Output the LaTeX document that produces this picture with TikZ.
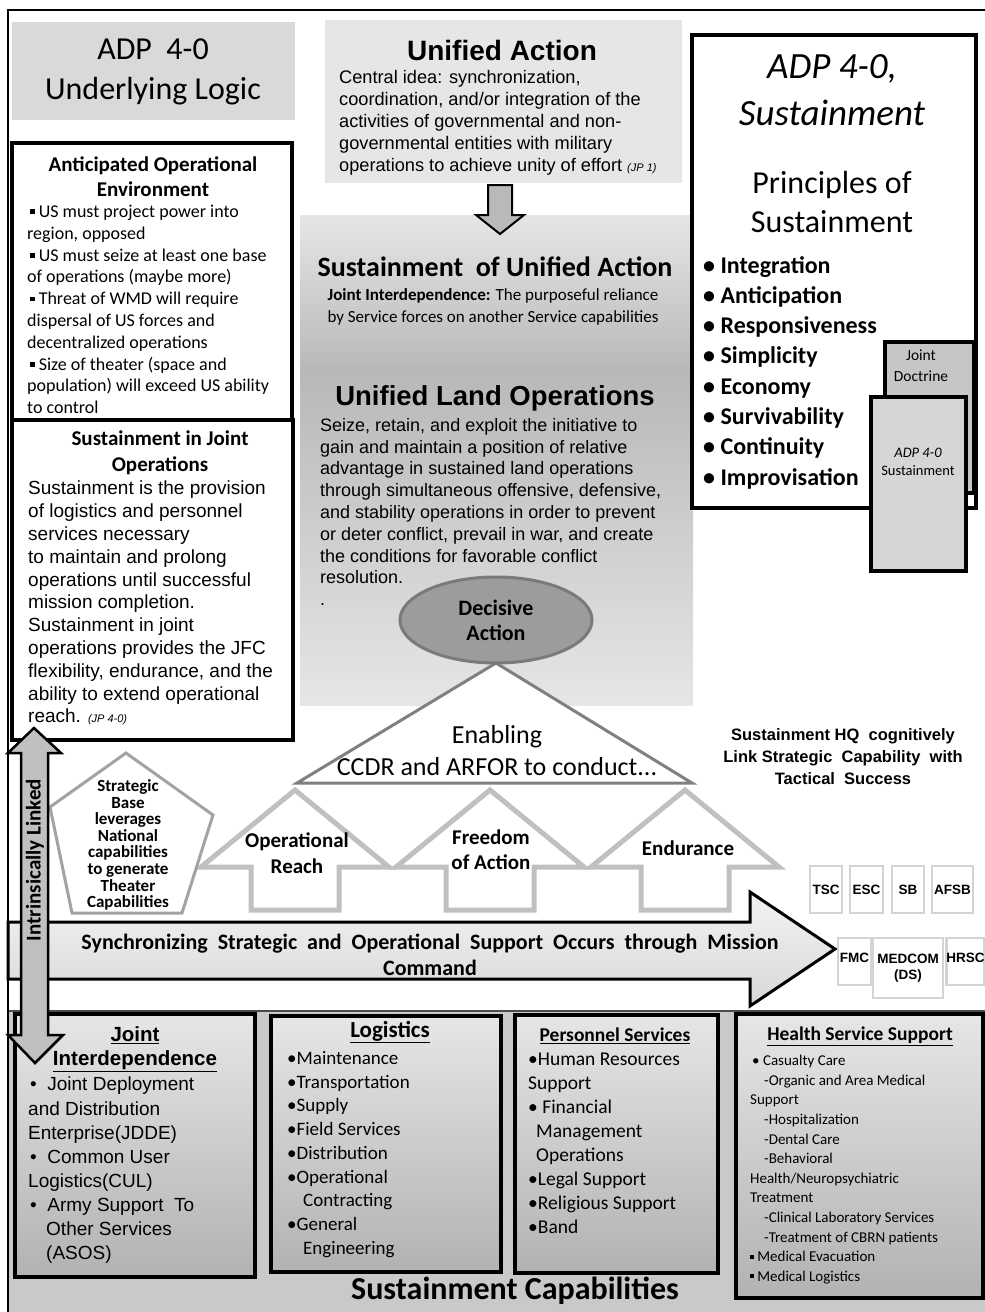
\documentclass[tikz,border=0pt]{standalone}
\usepackage{fontspec}
\usetikzlibrary{shapes.geometric}
\setmainfont{Carlito}
\newfontfamily\arialf{Liberation Sans}
\newcommand{\fsz}[2]{\fontsize{#1}{#2}\selectfont}
\newcommand{\sqb}{\raisebox{0.2em}{\rule{0.25em}{0.25em}}}
\definecolor{logicgray}{HTML}{D9D9D9}
\definecolor{uagray}{HTML}{E6E6E6}
\definecolor{paneltop}{HTML}{E6E6E6}
\definecolor{paneldark}{HTML}{B8B8B8}
\definecolor{ellfill}{HTML}{9C9C9C}
\definecolor{ellline}{HTML}{7A7A7A}
\definecolor{trigray}{HTML}{808080}
\definecolor{arrowgray}{HTML}{C0C0C0}
\definecolor{hqline}{HTML}{D4D4D4}
\definecolor{bandgray}{HTML}{C9C9C9}
\definecolor{capstop}{HTML}{E6E6E6}
\definecolor{capsbot}{HTML}{B2B2B2}
\definecolor{doctgray}{HTML}{C6C6C6}
\definecolor{adpgray}{HTML}{D6D6D6}

\tikzset{
  heavybox/.style={draw=black, line width=4pt, fill=white},
  capbox/.style={draw=black, line width=4.5pt, top color=capstop, bottom color=capsbot},
  lefttxt/.style={inner sep=0pt, anchor=north west, align=left},
  midtxt/.style={inner sep=0pt, align=center},
  enabler/.style={draw=arrowgray, line width=5pt, fill=white, line join=miter},
  hqbox/.style={draw=hqline, line width=2.5pt, fill=white, inner sep=0pt,
    font=\arialf\bfseries\fsz{13.5}{16}},
}

\begin{document}
\begin{tikzpicture}[x=1pt, y=-1pt]
  \useasboundingbox (0,0) rectangle (985,1312);

  % Outer frame and capability band
  \fill[bandgray] (8,1011) rectangle (985,1312);
  \draw[black!70, line width=1.5pt] (8,1011) -- (985,1011);
  \draw[line width=2pt] (985,10) -- (8,10) -- (8,1312);

  % Underlying logic (left column)
  \fill[logicgray] (12,22) rectangle (295,120);
  \node[midtxt, font=\fsz{32}{40}] (logic) at (153,72) {ADP\ \ 4-0\\Underlying Logic};
  \draw[heavybox] (12,143) rectangle (292,420);
  \node[midtxt, font=\bfseries\fsz{21}{25}] (aoetitle) at (153,177) {Anticipated Operational\\Environment};
  \node[lefttxt, font=\fsz{18}{21.8}] (aoe) at (27,205) {%
    \hspace{3pt}\sqb\ US must project power into\\
    region, opposed\\
    \hspace{3pt}\sqb\ US must seize at least one base\\
    of operations (maybe more)\\
    \hspace{3pt}\sqb\ Threat of WMD will require\\
    dispersal of US forces and\\
    decentralized operations\\
    \hspace{3pt}\sqb\ Size of theater (space and\\
    population) will exceed US ability\\
    to control};
  \draw[heavybox] (12,420) rectangle (293,740);
  \node[midtxt, font=\bfseries\fsz{21}{26}] (sjotitle) at (160,453) {Sustainment in Joint\\Operations};
  \node[lefttxt, font=\arialf\fsz{19}{22.8}] (sjo) at (28,481) {%
    Sustainment is the provision\\
    of logistics and personnel\\
    services necessary\\
    to maintain and prolong\\
    operations until successful\\
    mission completion.\\
    Sustainment in joint\\
    operations provides the JFC\\
    flexibility, endurance, and the\\
    ability to extend operational\\
    reach. {\itshape\fsz{11}{11}(JP 4-0)}};

  % Unified action and the sustainment panel
  \fill[uagray] (325,20) rectangle (682,183);
  \node[midtxt, font=\arialf\bfseries\fsz{28}{30}] (ua) at (502,50) {Unified Action};
  \node[lefttxt, font=\arialf\fsz{18.2}{22}] (uatext) at (339,70) {%
    Central idea: synchronization,\\
    coordination, and/or integration of the\\
    activities of governmental and non-\\
    governmental entities with military\\
    operations to achieve unity of effort {\itshape\fsz{11}{11}(JP 1)}};
  \fill[top color=paneltop, bottom color=paneldark] (300,215) rectangle (693,372);
  \fill[top color=paneldark, bottom color=paneltop] (300,371) rectangle (693,705);
  \draw[fill=gray!55, line width=2pt] (488,185) -- (512,185) -- (512,215) -- (524,215)
    -- (500,234) -- (476,215) -- (488,215) -- cycle;
  \node[midtxt, font=\bfseries\fsz{28}{28}] (sua) at (495,267) {Sustainment\ \ of Unified Action};
  \node[midtxt, font=\fsz{17}{22}] (ji) at (493,307) {{\bfseries Joint Interdependence:} The purposeful reliance\\
    by Service forces on another Service capabilities};
  \node[midtxt, font=\arialf\bfseries\fsz{27.5}{30}] (ulo) at (495,398) {Unified Land Operations};
  \node[lefttxt, font=\arialf\fsz{18}{21.8}] (ulotext) at (320,418) {%
    Seize, retain, and exploit the initiative to\\
    gain and maintain a position of relative\\
    advantage in sustained land operations\\
    through simultaneous offensive, defensive,\\
    and stability operations in order to prevent\\
    or deter conflict, prevail in war, and create\\
    the conditions for favorable conflict\\
    resolution.\\
    .};

  % Principles of sustainment (right column)
  \draw[heavybox] (692,35) rectangle (976,508);
  \node[midtxt, font=\itshape\fsz{37}{47}] (adp) at (832,90) {ADP 4-0,\\Sustainment};
  \node[midtxt, font=\fsz{32}{39}] (prin) at (832,202) {Principles of\\Sustainment};
  \node[lefttxt, font=\bfseries\fsz{24}{30.3}] (prinlist) at (703,256) {%
    \textbullet\ Integration\\
    \textbullet\ Anticipation\\
    \textbullet\ Responsiveness\\
    \textbullet\ Simplicity\\
    \textbullet\ Economy\\
    \textbullet\ Survivability\\
    \textbullet\ Continuity\\
    \textbullet\ Improvisation};
  \draw[fill=doctgray, line width=3.5pt] (885,342) rectangle (974,493);
  \node[midtxt, font=\fsz{15.5}{21}] (jd) at (921,366) {Joint\\Doctrine};
  \draw[fill=adpgray, line width=3.5pt] (871,397) rectangle (966,571);
  \node[midtxt, font=\fsz{14.5}{18}] (adpbook) at (918,462) {{\itshape ADP 4-0}\\Sustainment};

  % Decisive action and enabling tasks
  \coordinate (datip) at (496,663);
  \coordinate (enl) at (297,783);
  \coordinate (enr) at (692,783);
  \draw[trigray, line width=3pt, fill=white] (datip) -- (enr) -- (enl) -- cycle;
  \node[ellipse, draw=ellline, line width=3pt, fill=ellfill, minimum width=192, minimum height=86,
    inner sep=0pt, align=center, font=\bfseries\fsz{22}{25}] (da) at (496,620) {Decisive\\Action};
  \node[midtxt, font=\fsz{26}{32}] (enab) at (497,751) {Enabling\\CCDR and ARFOR to conduct...};
  \foreach \cx in {295,490,685}
    \draw[enabler] (\cx,790) -- (\cx+94,867) -- (\cx+44,867) -- (\cx+44,910)
      -- (\cx-44,910) -- (\cx-44,867) -- (\cx-94,867) -- cycle;
  \node[midtxt, font=\bfseries\fsz{21}{26}] (opreach) at (297,853) {Operational\\Reach};
  \node[midtxt, font=\bfseries\fsz{21}{25}] (freedom) at (491,850) {Freedom\\of Action};
  \node[midtxt, font=\bfseries\fsz{21}{25}] (endur) at (688,848) {Endurance};

  % Strategic base
  \draw[arrowgray!85!black, line width=3pt, fill=white] (126,753) -- (213,815) -- (182,913)
    -- (72,913) -- (50,807) -- cycle;
  \node[midtxt, font=\bfseries\fsz{17}{16.6}] (base) at (128,845) {Strategic\\Base\\leverages\\National\\capabilities\\to generate\\Theater\\Capabilities};

  % Mission command arrow
  \draw[line width=3pt, top color=gray!10, bottom color=gray!30, line join=miter]
    (8,922) -- (750,922) -- (750,892) -- (835,949) -- (750,1006) -- (750,979) -- (8,979) -- cycle;
  \node[midtxt, font=\bfseries\fsz{22}{26}] (sync) at (430,955) {Synchronizing\ \ Strategic\ \ and\ \ Operational\ \ Support\ \ Occurs\ \ through\ \ Mission\\Command};

  % Sustainment headquarters
  \node[midtxt, font=\arialf\bfseries\fsz{16.5}{22}] (hq) at (843,757) {Sustainment HQ\ \ cognitively\\Link Strategic\ \ Capability\ \ with\\Tactical\ \ Success};
  \node[hqbox, minimum width=32, minimum height=47] (tsc) at (826,889.5) {TSC};
  \node[hqbox, minimum width=33, minimum height=47] (esc) at (866.5,889.5) {ESC};
  \node[hqbox, minimum width=32, minimum height=47] (sb) at (908,889.5) {SB};
  \node[hqbox, minimum width=41, minimum height=47] (afsb) at (952.5,889.5) {AFSB};
  \node[hqbox, minimum width=33, minimum height=47, text depth=8pt] (fmc) at (854.5,961.5) {FMC};
  \node[hqbox, minimum width=70, minimum height=60, align=center] (medcom) at (908,968) {MEDCOM\\(DS)};
  \node[hqbox, minimum width=35, minimum height=47, text depth=8pt] (hrsc) at (965.5,961.5) {HRSC};

  % Sustainment capabilities
  \draw[capbox] (15,1014) rectangle (255,1277);
  \node[midtxt, font=\arialf\bfseries\fsz{20.5}{24}] (jititle) at (135,1049) {\underline{Joint}\\\underline{Interdependence}};
  \node[lefttxt, font=\arialf\fsz{19}{24.1}] (jitext) at (28,1077) {%
    \hspace{2pt}\textbullet\ \ Joint Deployment\\
    and Distribution\\
    Enterprise(JDDE)\\
    \hspace{2pt}\textbullet\ \ Common User\\
    Logistics(CUL)\\
    \hspace{2pt}\textbullet\ \ Army Support\ \ To\\
    \hspace{18pt}Other Services\\
    \hspace{18pt}(ASOS)};
  \draw[capbox] (271,1016) rectangle (501,1272);
  \node[midtxt, font=\bfseries\fsz{23}{24}] (logtitle) at (390,1032) {\underline{Logistics}};
  \node[lefttxt, font=\fsz{19}{23.75}] (logtext) at (287,1051) {%
    \textbullet Maintenance\\
    \textbullet Transportation\\
    \textbullet Supply\\
    \textbullet Field Services\\
    \textbullet Distribution\\
    \textbullet Operational\\
    \hspace{16pt}Contracting\\
    \textbullet General\\
    \hspace{16pt}Engineering};
  \draw[capbox] (515,1015) rectangle (718,1273);
  \node[midtxt, font=\bfseries\fsz{19.5}{24}] (pstitle) at (615,1036) {\underline{Personnel Services}};
  \node[lefttxt, font=\fsz{19.5}{24}] (pstext) at (528,1053) {%
    \textbullet Human Resources\\
    Support\\
    \textbullet\ Financial\\
    \hspace{8pt}Management\\
    \hspace{8pt}Operations\\
    \textbullet Legal Support\\
    \textbullet Religious Support\\
    \textbullet Band};
  \draw[capbox] (736,1014) rectangle (983,1298);
  \node[midtxt, font=\bfseries\fsz{19.5}{24}] (hsstitle) at (860,1036) {\underline{Health Service Support}};
  \node[lefttxt, font=\fsz{15}{19.6}] (hsstext) at (750,1055) {%
    \hspace{2pt}\textbullet\ Casualty Care\\
    \hspace{14pt}-Organic and Area Medical\\
    Support\\
    \hspace{14pt}-Hospitalization\\
    \hspace{14pt}-Dental Care\\
    \hspace{14pt}-Behavioral\\
    Health/Neuropsychiatric\\
    Treatment\\
    \hspace{14pt}-Clinical Laboratory Services\\
    \hspace{14pt}-Treatment of CBRN patients\\
    \sqb\ Medical Evacuation\\
    \sqb\ Medical Logistics};
  \node[midtxt, font=\bfseries\fsz{32}{32}] (caps) at (515,1291) {Sustainment Capabilities};

  % Intrinsically linked arrow
  \draw[fill=arrowgray, line width=2.5pt, line join=miter] (34,728) -- (61,753) -- (48,753) -- (48,1035)
    -- (63,1035) -- (35,1063) -- (8,1035) -- (21,1035) -- (21,753) -- (8,753) -- cycle;
  \node[rotate=90, inner sep=0pt, font=\bfseries\fsz{21}{22}] (linked) at (35,860) {Intrinsically Linked};
\end{tikzpicture}
\end{document}
